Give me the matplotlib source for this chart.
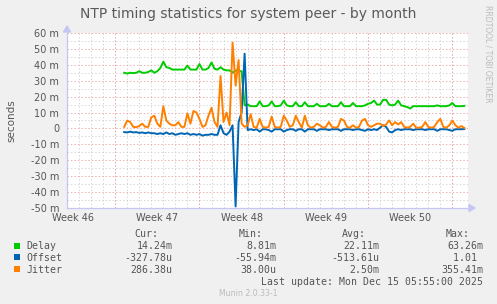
import matplotlib
matplotlib.use('Agg')
import matplotlib.pyplot as plt
import numpy as np
from matplotlib.patches import Rectangle, Polygon
from matplotlib.lines import Line2D

plt.rcParams['lines.scale_dashes'] = False

# time axis: days before the last update, one sample every 6 hours
t_start = -28.55
t_step = 0.25

# values in milliseconds
delay = [
    35, 34.5, 35, 34.8, 35, 36, 35, 35, 35.5, 36.5,
    35, 36, 38, 42, 38.5, 38, 37, 37, 37, 37,
    37, 39.5, 37, 37, 37, 40.5, 37, 37, 38, 41.5,
    37.5, 37, 38.5, 37, 36.5, 36.5, 35, 36.5, 36, 36,
    14.5, 15, 14, 14, 14, 17, 14, 14, 14.5, 17,
    14, 14, 14.5, 17.5, 14.5, 14, 14, 16.5, 14, 14,
    16.5, 14, 14, 14, 15.5, 14, 14, 14, 15.5, 14,
    14, 14, 16.5, 14, 14, 14, 16, 14, 14, 14,
    14.5, 15.5, 16, 17.5, 15, 15, 18, 18, 15, 14.5,
    15, 17.5, 14.5, 14, 13.5, 12.5, 14, 14, 14, 14,
    14, 14, 14, 14, 14.5, 14, 14, 14, 14.5, 16,
    14, 14, 14, 14.2,
]
offset = [
    -2.3, -2.5, -2, -2.5, -2.3, -2.8, -2.5, -3, -2.5, -3,
    -3, -3.5, -3, -3.5, -2.5, -3.5, -3, -4, -3.5, -3,
    -3.5, -3, -4, -3.5, -4, -3.5, -4.5, -4, -4, -3.5,
    -4, -4, 2, -3, -4, -2, 2, -49, 4, 10,
    47, -1, -0.5, -1, -0.5, -2, -0.5, -0.5, -1, -2,
    -0.5, -0.5, -0.5, -2, -1, -0.5, -0.5, -1.5, -0.5, -0.5,
    -2, -0.5, -0.5, -0.5, -1.5, -0.5, -0.5, -0.5, -1, -0.5,
    -0.5, -0.5, -1.5, -0.5, -0.5, -0.5, -1, -0.5, -0.5, -1,
    -1.5, -0.5, -1, -0.5, -1, 0.5, 2, 1, -2, -2.5,
    -1, -0.5, -1, -0.5, -0.5, -0.5, -1, -0.5, -0.5, -0.5,
    -1, -0.5, -0.5, -0.5, -1.5, -0.5, -0.5, -0.5, -1, -1.5,
    -0.5, -0.5, -0.5, -0.33,
]
jitter = [
    1, 5, 4, 1, 0.8, 1.5, 3, 1, 1, 7,
    8, 3, 1, 14, 5, 3, 2, 2, 4, 1,
    1, 9.5, 3, 11, 10, 6, 1, 2, 8, 13,
    4, 1, 33, 4, 10, 2, 54, 27, 43, 3,
    1, 2, 9, 1, 0.5, 6, 1, 0.5, 1, 7.5,
    1, 0.5, 1, 8, 5, 1, 2, 8, 4, 0.5,
    8, 2, 0.5, 1, 3, 2, 0.5, 1, 4, 1,
    0.5, 1, 6, 5, 1, 0.5, 2, 0.5, 1, 5,
    6, 2, 1, 2, 3, 3, 1.5, 2.5, 5, 2,
    4, 2.5, 4, 1, 0.5, 1, 3, 0.5, 0.5, 1,
    4, 1, 0.5, 1, 4, 6, 1, 0.5, 2, 5,
    2, 0.5, 1.5, 0.29,
]

series_names = ['Delay', 'Offset', 'Jitter']
series_colors = ['#00CC00', '#0066B3', '#FF8000']
cur_vals = ['14.24m', '-327.78u', '286.38u']
min_vals = ['8.81m', '-55.94m', '38.00u']
avg_vals = ['22.11m', '-513.61u', '2.50m']
max_vals = ['63.26m', '1.01 ', '355.41m']

week_labels = ['Week 46', 'Week 47', 'Week 48', 'Week 49', 'Week 50']
week_starts = [-29.3, -22.3, -15.3, -8.3, -1.3]
x_range = (-33.3, 0.0)

y_ticks = [-50, -40, -30, -20, -10, 0, 10, 20, 30, 40, 50, 60]
y_labels = ['-50 m', '-40 m', '-30 m', '-20 m', '-10 m', '0',
            '10 m', '20 m', '30 m', '40 m', '50 m', '60 m']

title = 'NTP timing statistics for system peer - by month'
last_update = 'Last update: Mon Dec 15 05:55:00 2025'

W, H = 497, 304


def fx(x):
    return x / W


def fy(y):
    return 1 - y / H


fig = plt.figure(figsize=(W / 100, H / 100), dpi=100, facecolor='#F0F0F0')
ax = fig.add_axes([fx(67), fy(208), (468 - 67) / W, (208 - 33) / H])
ax.set_facecolor('white')
for s in ax.spines.values():
    s.set_visible(False)
ax.set_xlim(*x_range)
ax.set_ylim(y_ticks[0], y_ticks[-1])

# grid, rrdtool style
minor_c = '#CFCFCF'
major_c = '#EBA0A0'
d = week_starts[-1]
while d > x_range[0]:
    ax.axvline(d, color=minor_c, lw=0.6, dashes=(1, 1.5), zorder=1)
    d -= 1
for yv in y_ticks[:-1]:
    ax.axhline(yv + 5, color=minor_c, lw=0.6, dashes=(1, 1.5), zorder=1)
for ws in week_starts:
    ax.axvline(ws, color=major_c, lw=0.6, dashes=(1, 1.5), zorder=2)
for yv in y_ticks:
    ax.axhline(yv, color=major_c, lw=0.6, dashes=(1, 1.5), zorder=2)

t = t_start + t_step * np.arange(len(delay))
for vals, c in zip([delay, offset, jitter], series_colors):
    ax.plot(t, vals, color=c, lw=1.4, zorder=3, solid_joinstyle='round')

ax.set_yticks(y_ticks)
ax.set_yticklabels(y_labels)
ax.set_xticks([w - 3.5 for w in week_starts])
ax.set_xticklabels(week_labels)
ax.tick_params(axis='y', length=0, pad=5.5, labelsize=7, labelcolor='#555555')
ax.tick_params(axis='x', length=0, pad=3.5, labelsize=7, labelcolor='#555555')

# axes with arrows
axc = '#C6C6F5'
fig.add_artist(Line2D([fx(67), fx(67)], [fy(208), fy(29)], transform=fig.transFigure,
                      color=axc, lw=0.9))
fig.add_artist(Line2D([fx(67), fx(470)], [fy(208), fy(208)], transform=fig.transFigure,
                      color=axc, lw=0.9))
fig.add_artist(Polygon([(fx(63.5), fy(32)), (fx(70.5), fy(32)), (fx(67), fy(26))],
                       closed=True, transform=fig.transFigure, color=axc))
fig.add_artist(Polygon([(fx(469), fy(204.5)), (fx(469), fy(211.5)), (fx(475), fy(208))],
                       closed=True, transform=fig.transFigure, color=axc))

fig.text(fx(248), fy(18.3), title, ha='center', va='baseline', fontsize=10, color='#5A5A5A')
fig.text(fx(11), fy(120.5), 'seconds', ha='center', va='center', rotation=90,
         fontsize=7.5, color='#555555')
fig.text(fx(488), fy(5), 'RRDTOOL / TOBI OETIKER', ha='center', va='top', rotation=270,
         fontsize=5.5, color='#BBBBBB')

# legend
mono = dict(family='DejaVu Sans Mono', fontsize=7.1, color='#555555', va='baseline')
fig.text(fx(158.3), fy(237.2), 'Cur:', ha='right', **mono)
fig.text(fx(262.3), fy(237.2), 'Min:', ha='right', **mono)
fig.text(fx(365.7), fy(237.2), 'Avg:', ha='right', **mono)
fig.text(fx(469.3), fy(237.2), 'Max:', ha='right', **mono)
for i, name in enumerate(series_names):
    yb = 249 + 11.9 * i
    fig.add_artist(Rectangle((fx(14), fy(yb - 0.5)), 6 / W, 6 / H, transform=fig.transFigure,
                             facecolor=series_colors[i], edgecolor='none'))
    fig.text(fx(26.5), fy(yb), name, ha='left', **mono)
    fig.text(fx(172.3), fy(yb), cur_vals[i], ha='right', **mono)
    fig.text(fx(276), fy(yb), min_vals[i], ha='right', **mono)
    fig.text(fx(379), fy(yb), avg_vals[i], ha='right', **mono)
    fig.text(fx(483.3), fy(yb), max_vals[i], ha='right', **mono)
fig.text(fx(483.3), fy(284.6), last_update, ha='right', **mono)
fig.text(fx(248), fy(293.5), 'Munin 2.0.33-1', ha='center', va='center', fontsize=5.6,
         color='#BBBBBB')

fig.savefig('out.png', dpi=100, facecolor=fig.get_facecolor())
